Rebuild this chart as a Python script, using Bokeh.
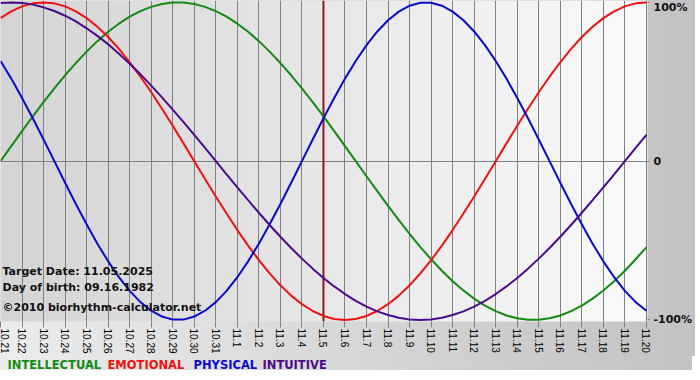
import math
import numpy as np
from bokeh.plotting import figure
from bokeh.layouts import column
from bokeh.models import FixedTicker, Label, Span, Range1d, InlineStyleSheet
from bokeh.core.properties import value
from bokeh.embed import file_html
from bokeh.resources import INLINE

# ---- data ----
dates = ["10.21", "10.22", "10.23", "10.24", "10.25", "10.26", "10.27", "10.28",
         "10.29", "10.30", "10.31", "11.1", "11.2", "11.3", "11.4", "11.5",
         "11.6", "11.7", "11.8", "11.9", "11.10", "11.11", "11.12", "11.13",
         "11.14", "11.15", "11.16", "11.17", "11.18", "11.19", "11.20"]

# curve values sampled every half day, from 10.21 to 11.20
intellectual = [0.000, 0.095, 0.189, 0.282, 0.372, 0.458, 0.541, 0.618, 0.690, 0.756,
                0.815, 0.866, 0.910, 0.945, 0.972, 0.990, 0.999, 0.999, 0.990, 0.972,
                0.945, 0.910, 0.866, 0.815, 0.756, 0.690, 0.618, 0.541, 0.458, 0.372,
                0.282, 0.189, 0.095, 0.000, -0.095, -0.189, -0.282, -0.372, -0.458,
                -0.541, -0.618, -0.690, -0.756, -0.815, -0.866, -0.910, -0.945, -0.972,
                -0.990, -0.999, -0.999, -0.990, -0.972, -0.945, -0.910, -0.866, -0.815,
                -0.756, -0.690, -0.618, -0.541]
emotional = [0.901, 0.944, 0.975, 0.994, 1.000, 0.994, 0.975, 0.944, 0.901, 0.847,
             0.782, 0.707, 0.623, 0.532, 0.434, 0.330, 0.223, 0.112, 0.000, -0.112,
             -0.223, -0.330, -0.434, -0.532, -0.623, -0.707, -0.782, -0.847, -0.901,
             -0.944, -0.975, -0.994, -1.000, -0.994, -0.975, -0.944, -0.901, -0.847,
             -0.782, -0.707, -0.623, -0.532, -0.434, -0.330, -0.223, -0.112, 0.000,
             0.112, 0.223, 0.330, 0.434, 0.532, 0.623, 0.707, 0.782, 0.847, 0.901,
             0.944, 0.975, 0.994, 1.000]
physical = [0.631, 0.520, 0.398, 0.270, 0.136, 0.000, -0.136, -0.270, -0.398, -0.520,
            -0.631, -0.731, -0.817, -0.888, -0.942, -0.979, -0.998, -0.998, -0.979,
            -0.942, -0.888, -0.817, -0.731, -0.631, -0.520, -0.398, -0.270, -0.136,
            0.000, 0.136, 0.270, 0.398, 0.520, 0.631, 0.731, 0.817, 0.888, 0.942,
            0.979, 0.998, 0.998, 0.979, 0.942, 0.888, 0.817, 0.731, 0.631, 0.520,
            0.398, 0.270, 0.136, 0.000, -0.136, -0.270, -0.398, -0.520, -0.631,
            -0.731, -0.817, -0.888, -0.942]
intuitive = [0.997, 1.000, 0.997, 0.986, 0.969, 0.946, 0.916, 0.880, 0.837, 0.789,
             0.736, 0.677, 0.614, 0.547, 0.476, 0.402, 0.325, 0.246, 0.165, 0.083,
             0.000, -0.083, -0.165, -0.246, -0.325, -0.402, -0.476, -0.547, -0.614,
             -0.677, -0.736, -0.789, -0.837, -0.880, -0.916, -0.946, -0.969, -0.986,
             -0.997, -1.000, -0.997, -0.986, -0.969, -0.946, -0.916, -0.880, -0.837,
             -0.789, -0.736, -0.677, -0.614, -0.547, -0.476, -0.402, -0.325, -0.246,
             -0.165, -0.083, 0.000, 0.083, 0.165]

target_date = "11.5"
info_texts = ["Target Date: 11.05.2025", "Day of birth: 09.16.1982",
              "\u00a92010 biorhythm-calculator.net"]
y_ticks = [-1, 0, 1]
y_tick_labels = ["-100%", "0", "100%"]
legend_names = ["INTELLECTUAL", "EMOTIONAL", "PHYSICAL", "INTUITIVE"]

# ---- styles ----
series = [intellectual, emotional, physical, intuitive]
line_colors = ["#138a13", "#ee1111", "#0a0acc", "#4b0a8a"]
legend_x = [7, 107, 193, 262]          # px offsets of legend words
info_y = [50, 34, 14]                  # px above plot bottom
grid_col = "#808080"
FW = 647                               # plot-area width in px
RB = 45                                # right border in px
outer_css = ":host { background: linear-gradient(to right, #ececec, #c2c2c2); }"

x_days = list(range(len(dates)))
x_half = [i / 2 for i in range(2 * len(dates) - 1)]

p = figure(frame_width=FW, frame_height=321, output_backend="svg",
           toolbar_location=None,
           x_range=Range1d(0, 30.05), y_range=Range1d(-1.01, 1.012),
           y_axis_location="right",
           min_border_left=0, min_border_top=0, min_border_right=RB,
           min_border_bottom=33)
p.outline_line_color = None
p.background_fill_color = "#e4e4e4"
p.border_fill_color = None
p.stylesheets = [InlineStyleSheet(css=outer_css)]

# plot-area background gradient
n = 256
t = np.linspace(0.0, 1.0, n)
g = np.round(0xd4 + (0xfa - 0xd4) * t).astype(np.uint8)
img = np.empty((1, n), dtype=np.uint32)
view = img.view(dtype=np.uint8).reshape((1, n, 4))
view[0, :, 0] = g
view[0, :, 1] = g
view[0, :, 2] = g
view[0, :, 3] = 255
p.image_rgba(image=[img], x=p.x_range.start, y=p.y_range.start,
             dw=p.x_range.end - p.x_range.start,
             dh=p.y_range.end - p.y_range.start, level="image")

# grid
p.xgrid.ticker = FixedTicker(ticks=x_days)
p.xgrid.grid_line_color = grid_col
p.ygrid.ticker = FixedTicker(ticks=[0])
p.ygrid.grid_line_color = grid_col

# x axis
xa = p.xaxis[0]
xa.ticker = FixedTicker(ticks=x_days)
xa.major_label_overrides = {i: d for i, d in zip(x_days, dates)}
xa.major_label_orientation = -math.pi / 2
xa.axis_line_color = None
xa.major_tick_line_color = grid_col
xa.major_tick_out = 6
xa.major_tick_in = 0
xa.minor_tick_line_color = None
xa.major_label_standoff = 1
xa.major_label_text_font = "Liberation Sans"
xa.major_label_text_font_size = "10px"
xa.major_label_text_color = "#000000"

# y axis (right)
ya = p.yaxis[0]
ya.ticker = FixedTicker(ticks=y_ticks)
ya.major_label_overrides = {v: s for v, s in zip(y_ticks, y_tick_labels)}
ya.axis_line_color = None
ya.major_tick_line_color = grid_col
ya.major_tick_out = 2
ya.major_tick_in = 0
ya.minor_tick_line_color = None
ya.major_label_standoff = 4
ya.major_label_text_font = "DejaVu Sans"
ya.major_label_text_font_style = "bold"
ya.major_label_text_font_size = "11px"
ya.major_label_text_color = "#111111"

# target date marker
p.add_layout(Span(location=dates.index(target_date), dimension="height",
                  line_color="#8b1a1a", line_width=2, level="underlay"))

# curves
for vals, col in zip(series, line_colors):
    p.line(x_half, vals, line_color=col, line_width=2)

# info texts
for txt, yy in zip(info_texts, info_y):
    p.add_layout(Label(x=2, y=yy, x_units="screen", y_units="screen", text=txt,
                       text_font="DejaVu Sans", text_font_style="bold",
                       text_font_size="11px", text_baseline="middle",
                       text_color="#111111"))

# legend strip (coloured words); x range in pixels of the plot-area width
leg = figure(frame_width=FW, frame_height=14, output_backend="svg",
             toolbar_location=None,
             x_range=Range1d(0, FW), y_range=Range1d(0, 14),
             min_border_left=0, min_border_right=RB, min_border_top=0,
             min_border_bottom=0)
leg.axis.visible = False
leg.grid.visible = False
leg.outline_line_color = None
leg.background_fill_color = None
leg.border_fill_color = None
leg.stylesheets = [InlineStyleSheet(css=outer_css)]
leg.text(x=legend_x, y=[6] * len(legend_names), text=legend_names,
         text_color=line_colors, text_font=value("DejaVu Sans"),
         text_font_style="bold", text_font_size="11.5px", text_baseline="middle",
         text_align="left")

layout = column(p, leg, spacing=0)
open("out.html", "w").write(file_html(layout, INLINE))
